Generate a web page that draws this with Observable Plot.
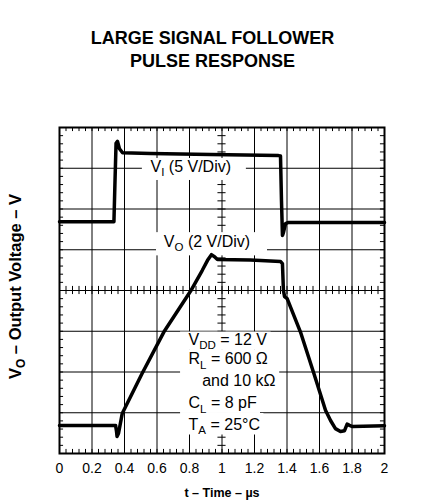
<!DOCTYPE html>
<html>
<head>
<meta charset="utf-8">
<script src="https://cdn.jsdelivr.net/npm/d3@7"></script>
<script src="https://cdn.jsdelivr.net/npm/@observablehq/plot@0.6"></script>
<style>
  html, body { margin: 0; padding: 0; background: #fff; }
  #wrap { position: relative; width: 421px; height: 502px; overflow: hidden; font-family: "Liberation Sans", Arial, Helvetica, sans-serif; }
  #title { position: absolute; left: 2px; top: 27px; width: 421px; text-align: center; font-weight: bold; font-size: 18px; line-height: 23px; color: #000; }
  #chart { position: absolute; left: 0; top: 100px; }
</style>
</head>
<body>
<div id="wrap">
  <div id="title"></div>
  <div id="chart"></div>
</div>
<script>
// ---- data ----
const titleLines = ["LARGE SIGNAL FOLLOWER", "PULSE RESPONSE"];
const xLabel = "t – Time – µs";
const yLabel = "V_{O} – Output Voltage – V";
const timeTicks = [0, 0.2, 0.4, 0.6, 0.8, 1, 1.2, 1.4, 1.6, 1.8, 2];
const timeTickLabels = ["0", "0.2", "0.4", "0.6", "0.8", "1", "1.2", "1.4", "1.6", "1.8", "2"];
const divLines = [1, 2, 3, 4, 5, 6, 7];

// input pulse V_I (time in µs, screen divisions from bottom)
const inputTime = [0, 0.335, 0.341, 0.348, 0.357, 0.369, 0.388, 0.56, 0.93, 1.348, 1.360, 1.366, 1.372, 1.378, 1.391, 1.409, 2];
const inputDiv  = [5.69, 5.69, 6.6, 7.61, 7.66, 7.48, 7.38, 7.36, 7.34, 7.31, 7.30, 6.21, 5.35, 5.42, 5.64, 5.67, 5.67];

// output V_O
const outputTime = [0, 0.345, 0.351, 0.354, 0.363, 0.386, 0.509, 0.642, 0.806, 0.878, 0.911, 0.935, 0.954, 0.972, 1.175, 1.360, 1.372, 1.378, 1.385, 1.401, 1.483, 1.565, 1.637, 1.668, 1.698, 1.729, 1.754, 1.770, 1.785, 1.803, 2];
const outputDiv  = [0.69, 0.69, 0.54, 0.42, 0.49, 0.98, 1.97, 2.98, 3.98, 4.49, 4.74, 4.88, 4.83, 4.76, 4.75, 4.71, 4.66, 4.00, 3.85, 3.80, 2.98, 1.97, 1.06, 0.81, 0.61, 0.54, 0.56, 0.72, 0.69, 0.66, 0.68];

const inputLabel = "V_{I} (5 V/Div)";
const outputLabel = "V_{O} (2 V/Div)";
const conditionLines = ["V_{DD} = 12 V", "R_{L} = 600 Ω", "and 10 kΩ", "C_{L} = 8 pF", "T_{A} = 25°C"];

// ---- build ----
document.getElementById("title").innerHTML = titleLines.join("<br>");

const inputData = inputTime.map((t, i) => ({t, v: inputDiv[i]}));
const outputData = outputTime.map((t, i) => ({t, v: outputDiv[i]}));
const minorX = d3.range(0, 2.0001, 0.04);
const minorY = d3.range(0, 8.0001, 0.2);

// annotation layout
const condX = [0.794, 0.794, 0.878, 0.794, 0.794];
const condY = [2.80, 2.31, 1.77, 1.24, 0.71];
const cond = conditionLines.map((s, i) => ({s, x: condX[i], y: condY[i]}));
const rowEdges = [2.98, 2.55, 2.037, 1.497, 0.982, 0.454];
const rowEnds = [1.302, 1.308, 1.355, 1.237, 1.258];
const condBoxes = rowEnds.map((e, i) => ({x1: 0.745, x2: e, y1: rowEdges[i + 1], y2: rowEdges[i]}));
const labelBoxes = [
  {x1: 0.51, x2: 1.15, y1: 6.70, y2: 7.24},
  {x1: 0.597, x2: 1.28, y1: 4.85, y2: 5.42}
];
const labels = [
  {s: inputLabel, x: 0.56, y: 7.04},
  {s: outputLabel, x: 0.642, y: 5.20}
];

const chart = Plot.plot({
  width: 421,
  height: 402,
  marginLeft: 59,
  marginRight: 37,
  marginTop: 27,
  marginBottom: 49,
  style: {fontFamily: "Liberation Sans, Arial, Helvetica, sans-serif", fontSize: "14px", color: "black", background: "white"},
  x: {domain: [0, 2], ticks: timeTicks, tickSize: 0, tickPadding: 10,
      tickFormat: d => timeTickLabels[timeTicks.indexOf(d)], label: null},
  y: {domain: [0, 8], axis: null},
  marks: [
    Plot.ruleX(timeTicks.slice(1, -1), {stroke: "black", strokeWidth: 1}),
    Plot.ruleY(divLines, {stroke: "black", strokeWidth: 1}),
    // minor ticks on frame
    Plot.ruleX(minorX, {x: d => d, y1: 0, y2: 0.1, stroke: "black", strokeWidth: 1}),
    Plot.ruleX(minorX, {x: d => d, y1: 8, y2: 7.9, stroke: "black", strokeWidth: 1}),
    Plot.ruleY(minorY, {y: d => d, x1: 0, x2: 0.025, stroke: "black", strokeWidth: 1}),
    Plot.ruleY(minorY, {y: d => d, x1: 2, x2: 1.975, stroke: "black", strokeWidth: 1}),
    // minor ticks on centre cross
    Plot.ruleX(minorX, {x: d => d, y1: 3.9, y2: 4.1, stroke: "black", strokeWidth: 1}),
    Plot.ruleY(minorY, {y: d => d, x1: 0.975, x2: 1.025, stroke: "black", strokeWidth: 1}),
    Plot.frame({stroke: "black", strokeWidth: 2}),
    // label backgrounds
    Plot.rect(labelBoxes, {x1: "x1", x2: "x2", y1: "y1", y2: "y2", fill: "white"}),
    Plot.rect(condBoxes, {x1: "x1", x2: "x2", y1: "y1", y2: "y2", fill: "white"}),
    Plot.text(labels, {x: "x", y: "y", text: "s", textAnchor: "start", lineAnchor: "middle", fontSize: 16, fill: "black"}),
    Plot.text(cond, {x: "x", y: "y", text: "s", textAnchor: "start", lineAnchor: "middle", fontSize: 16, fill: "black"}),
    // traces
    Plot.line(inputData, {x: "t", y: "v", stroke: "black", strokeWidth: 3.5, strokeLinejoin: "round", strokeLinecap: "round"}),
    Plot.line(outputData, {x: "t", y: "v", stroke: "black", strokeWidth: 3.5, strokeLinejoin: "round", strokeLinecap: "round"}),
    // axis labels
    Plot.text([xLabel], {x: 1, frameAnchor: "bottom", dy: 39, lineAnchor: "middle", fontWeight: "bold", fontSize: 12.5, fill: "black"}),
    Plot.text([yLabel], {frameAnchor: "left", dx: -44, dy: -4, rotate: -90, lineAnchor: "middle", textAnchor: "middle", fontWeight: "bold", fontSize: 16.5, fill: "black"})
  ]
});

document.getElementById("chart").appendChild(chart);

// subscripts: turn "_{..}" into lowered, smaller tspans
d3.select(chart).selectAll("text").each(function () {
  const t = this.textContent;
  if (!t.includes("_{")) return;
  const fs = parseFloat(getComputedStyle(this).fontSize) || 14;
  const shift = (fs * 0.28).toFixed(2);
  const el = d3.select(this);
  el.text(null);
  const re = /_\{([^}]*)\}/g;
  let last = 0, m;
  while ((m = re.exec(t))) {
    if (m.index > last) el.append("tspan").text(t.slice(last, m.index));
    el.append("tspan").attr("dy", shift).attr("font-size", (fs * 0.72).toFixed(2)).text(m[1]);
    last = re.lastIndex;
    const rest = t.slice(last);
    const next = rest.search(/_\{/);
    const piece = next < 0 ? rest : rest.slice(0, next);
    el.append("tspan").attr("dy", -shift).text(piece);
    last += piece.length;
    re.lastIndex = last;
  }
});
</script>
</body>
</html>
